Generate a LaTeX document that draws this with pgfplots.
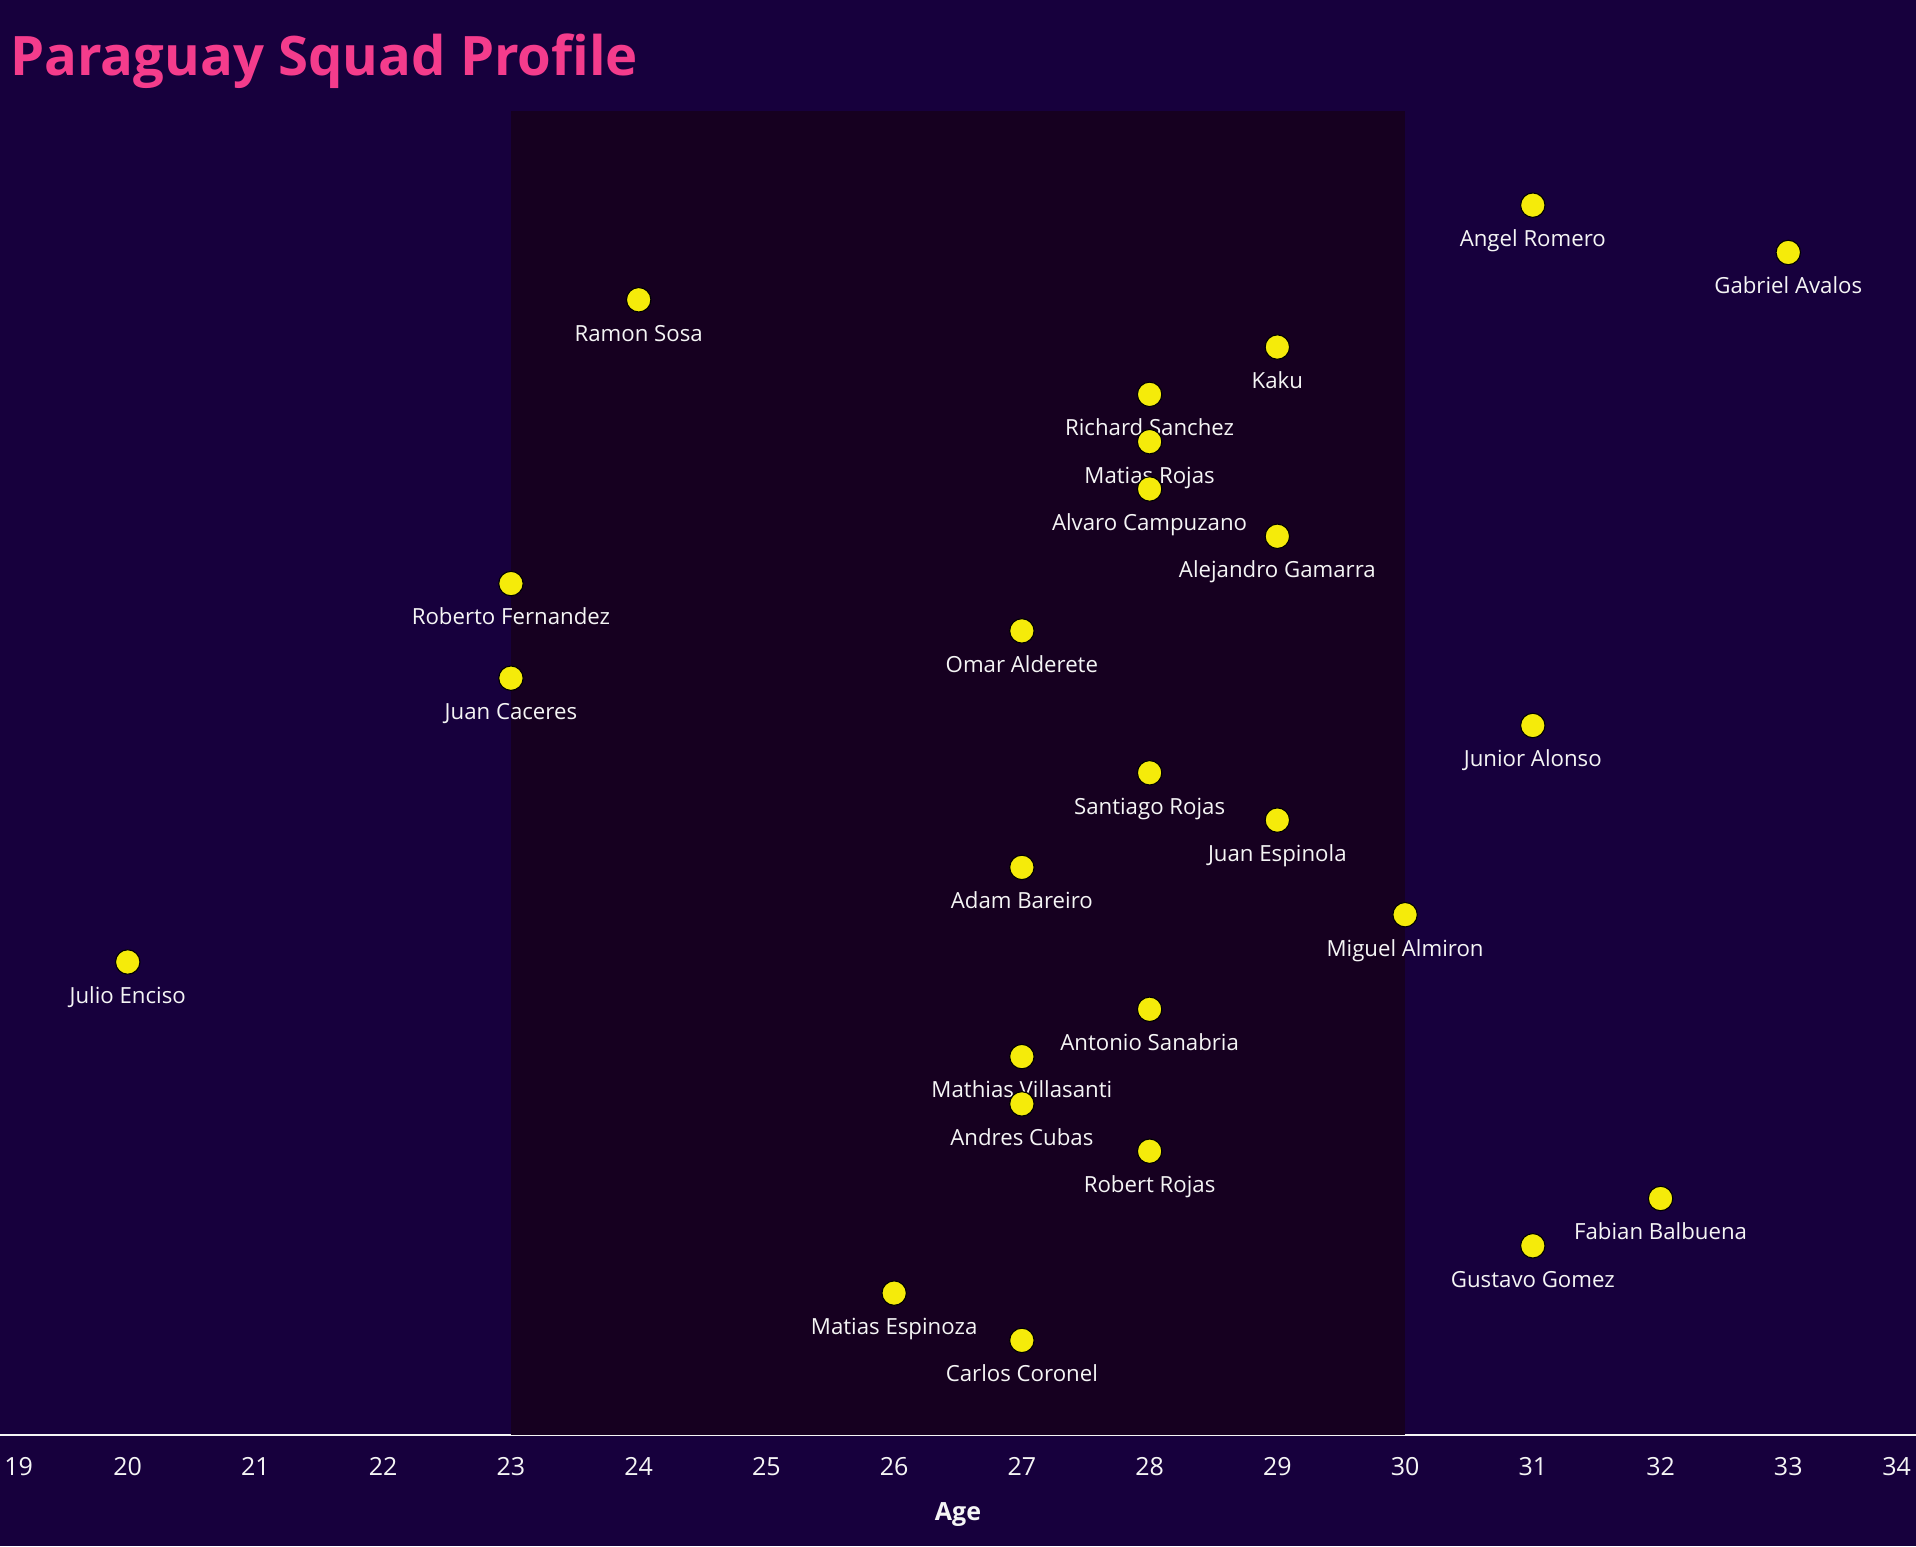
\documentclass[border=0pt]{standalone}
\usepackage{pgfplots}
\pgfplotsset{compat=1.18}
\usepackage{pgfplotstable}
\usepackage{fontspec}
\setmainfont{Open Sans}
\definecolor{bg}{RGB}{23,0,61}
\definecolor{shade}{RGB}{22,0,32}
\definecolor{dot}{RGB}{245,235,10}
\definecolor{titlepink}{RGB}{244,60,140}
\definecolor{txt}{RGB}{245,245,245}

\pgfplotstableread[col sep=comma]{
age,rank,name
31,1,Angel Romero
33,2,Gabriel Avalos
24,3,Ramon Sosa
29,4,Kaku
28,5,Richard Sanchez
28,6,Matias Rojas
28,7,Alvaro Campuzano
29,8,Alejandro Gamarra
23,9,Roberto Fernandez
27,10,Omar Alderete
23,11,Juan Caceres
31,12,Junior Alonso
28,13,Santiago Rojas
29,14,Juan Espinola
27,15,Adam Bareiro
30,16,Miguel Almiron
20,17,Julio Enciso
28,18,Antonio Sanabria
27,19,Mathias Villasanti
27,20,Andres Cubas
28,21,Robert Rojas
32,22,Fabian Balbuena
31,23,Gustavo Gomez
26,24,Matias Espinoza
27,25,Carlos Coronel
}\players

\begin{document}
\begin{tikzpicture}
\fill[bg] (0,0) rectangle (689.76pt,556.56pt);
\node[anchor=base west, inner sep=0pt, text=titlepink, font=\fontsize{19.6}{23}\selectfont\bfseries] at (3.5pt,529.2pt) {Paraguay Squad Profile};
\begin{axis}[
  at={(0pt,39.96pt)}, anchor=south west,
  scale only axis, width=689.76pt, height=476.8pt,
  xmin=19, xmax=34, ymin=-1, ymax=27,
  y dir=reverse,
  axis x line=bottom, axis y line=none,
  axis line style={draw=txt, line width=0.75pt, -},
  xtick={19,...,34},
  xticklabels={\makebox[0pt][l]{\hspace{1.6pt}19},20,21,22,23,24,25,26,27,28,29,30,31,32,33,\makebox[0pt][r]{34\hspace{1.8pt}}},
  major tick length=0pt,
  xticklabel style={anchor=center, yshift=-11.4pt, text=txt, font=\fontsize{9}{10}\selectfont},
  xlabel={Age},
  xlabel style={at={(axis description cs:0.5,0)}, anchor=center, yshift=-28.8pt, text=txt, font=\fontsize{9}{10}\selectfont\bfseries},
  ytick=\empty,
  clip=false,
]
\addplot[fill=shade, draw=none] coordinates {(23,-1) (30,-1) (30,27) (23,27)} -- cycle;
\addplot[only marks, mark=*, mark size=4.4pt, mark options={fill=dot, draw=none},
  point meta=explicit symbolic,
  nodes near coords,
  every node near coord/.append style={anchor=base, yshift=-14.9pt, text=txt, font=\fontsize{8}{9}\selectfont, inner sep=0pt},
] table[x=age, y=rank, meta=name] {\players};
\end{axis}
\pgfresetboundingbox
\path[use as bounding box] (0,0) rectangle (689.76pt,556.56pt);
\end{tikzpicture}
\end{document}
